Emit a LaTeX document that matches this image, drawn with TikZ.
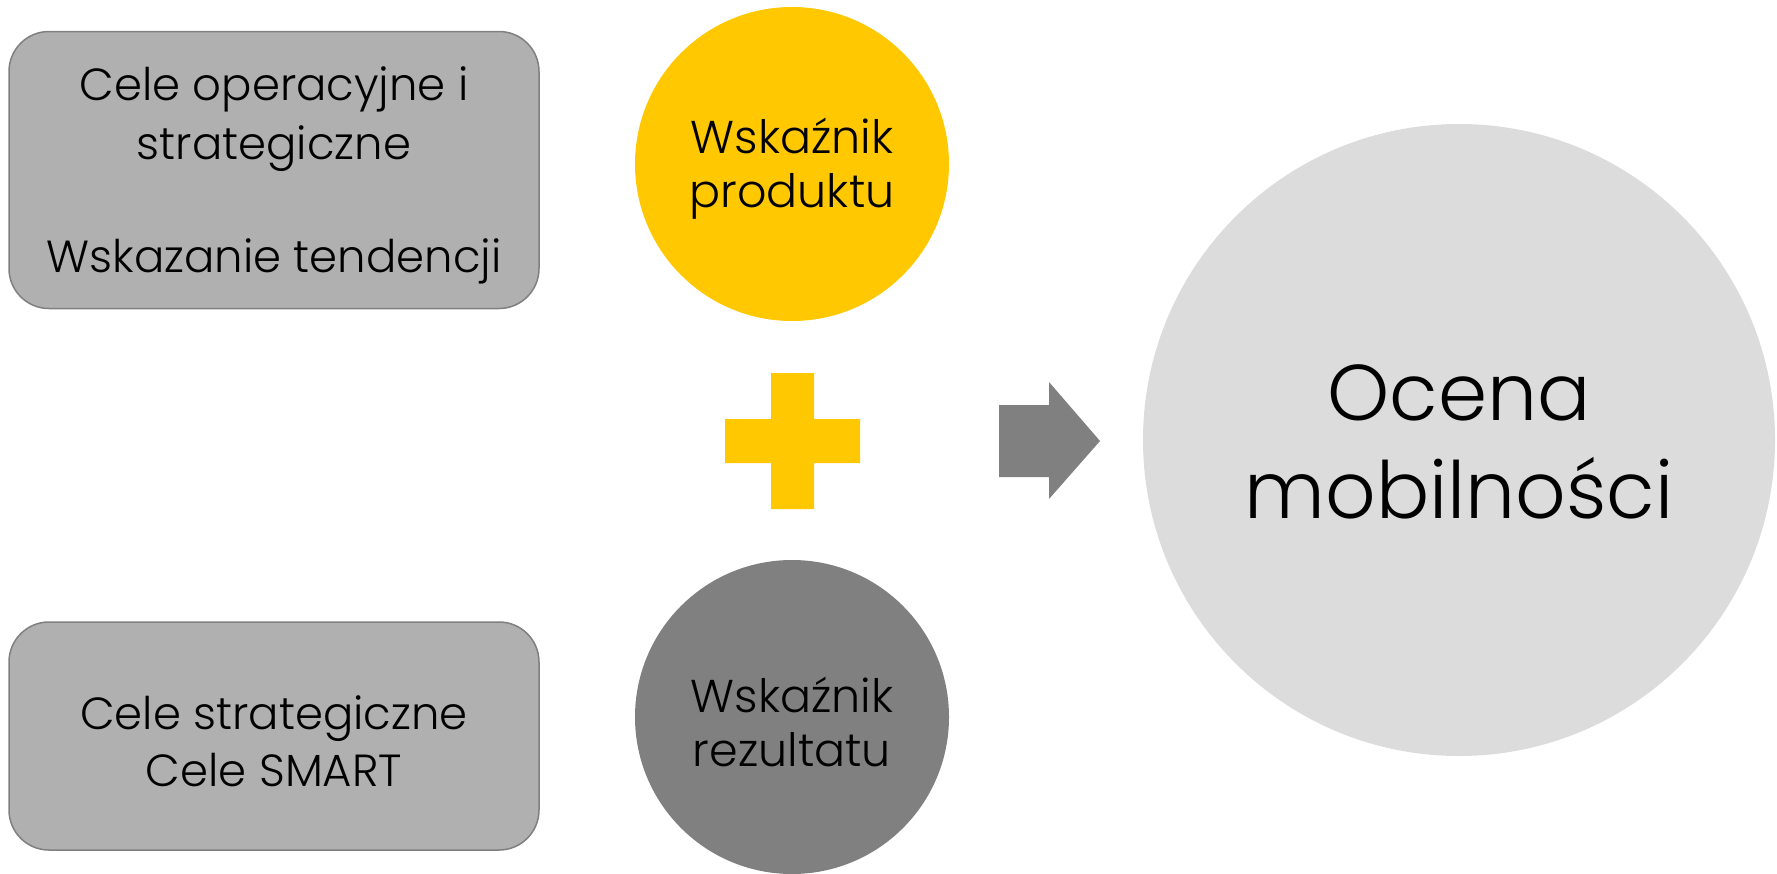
\documentclass[tikz,border=0pt]{standalone}
\usepackage{fontspec}
\setmainfont{Poppins}[UprightFont=* Light]
\definecolor{boxgray}{HTML}{B0B0B0}
\definecolor{boxline}{HTML}{808080}
\definecolor{ygold}{HTML}{FFC800}
\definecolor{dgray}{HTML}{808080}
\definecolor{lgray}{HTML}{DCDCDC}
\tikzset{
  goalbox/.style={draw=boxline, line width=1.5pt, fill=boxgray, rounded corners=40pt,
    minimum width=530pt, minimum height=277pt, inner sep=0pt},
  boxtext/.style={align=center, inner sep=0pt, yshift=-5pt, font=\fontsize{45}{59}\selectfont},
  smallcirc/.style={circle, minimum size=314pt, inner sep=0pt},
  circtext/.style={align=center, inner sep=0pt, yshift=-5pt, font=\fontsize{46}{54}\selectfont},
  bigcirc/.style={circle, fill=lgray, minimum size=632pt, inner sep=0pt},
  bigtext/.style={align=center, inner sep=0pt, yshift=-2pt, font=\fontsize{79}{98}\selectfont}
}
\begin{document}
\begin{tikzpicture}[x=1pt,y=-1pt]
\useasboundingbox (0,0) rectangle (1777,873);
\node[goalbox, label={[boxtext]center:{Cele operacyjne i\\strategiczne\\[54pt]Wskazanie tendencji}}] (top) at (274,170) {};
\node[goalbox, minimum height=228pt, label={[boxtext, font=\fontsize{45}{57}\selectfont]center:{Cele strategiczne\\Cele SMART}}] (bot) at (274,736) {};
\node[smallcirc, fill=ygold, label={[circtext]center:{Wskaźnik\\produktu}}] (prod) at (792,164) {};
\node[smallcirc, fill=dgray, label={[circtext]center:{Wskaźnik\\rezultatu}}] (rez) at (792,717) {};
\node[bigcirc, label={[bigtext]center:{Ocena\\mobilności}}] (ocena) at (1459,440) {};
% plus sign
\coordinate (plus) at (792.5,441);
\fill[ygold] ([shift={(-21.5,-68)}]plus) -- ([shift={(21.5,-68)}]plus) -- ([shift={(21.5,-22)}]plus)
  -- ([shift={(67.5,-22)}]plus) -- ([shift={(67.5,22)}]plus) -- ([shift={(21.5,22)}]plus)
  -- ([shift={(21.5,68)}]plus) -- ([shift={(-21.5,68)}]plus) -- ([shift={(-21.5,22)}]plus)
  -- ([shift={(-67.5,22)}]plus) -- ([shift={(-67.5,-22)}]plus) -- ([shift={(-21.5,-22)}]plus) -- cycle;
% block arrow
\coordinate (arr) at (999,441);
\fill[dgray] ([shift={(0,-36)}]arr) -- ([shift={(50,-36)}]arr) -- ([shift={(50,-59)}]arr)
  -- ([shift={(101,0)}]arr) -- ([shift={(50,58)}]arr) -- ([shift={(50,36)}]arr)
  -- ([shift={(0,36)}]arr) -- cycle;
\end{tikzpicture}
\end{document}
